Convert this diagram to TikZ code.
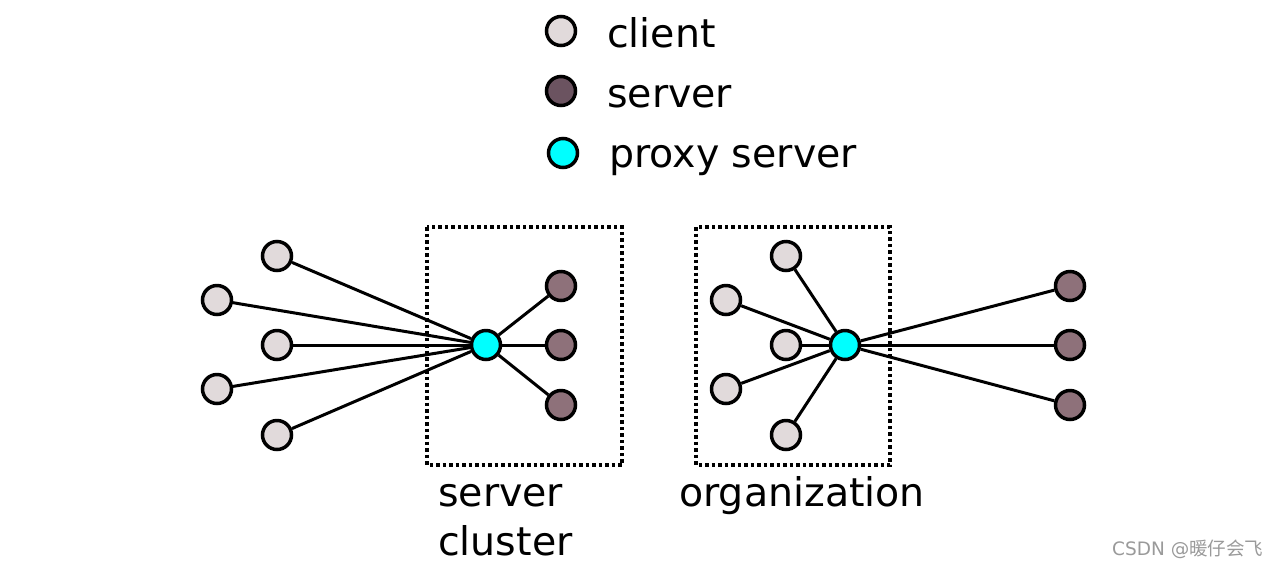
\documentclass[tikz,border=0pt]{standalone}
\usepackage{fontspec}
\setmainfont{DejaVu Sans}
\newfontfamily\cjk{Noto Sans CJK SC}
\definecolor{clientc}{HTML}{E1DADB}
\definecolor{serverleg}{HTML}{6B5360}
\definecolor{serverc}{HTML}{8E717A}
\definecolor{proxyc}{HTML}{00FFFF}
\definecolor{wm}{HTML}{9A9A9A}
\tikzset{
  dot/.style={circle,draw=black,line width=3.5pt,minimum size=29pt,inner sep=0pt},
  clientdot/.style={dot,fill=clientc},
  serverdot/.style={dot,fill=serverc},
  legserver/.style={dot,fill=serverleg},
  proxydot/.style={dot,fill=proxyc},
  link/.style={line width=3pt},
  cbox/.style={draw=black,line width=3.5pt,dash pattern=on 3.5pt off 3pt},
  lbl/.style={font=\fontsize{39.5}{46}\selectfont,inner sep=0pt,anchor=base west},
}
\begin{document}
\begin{tikzpicture}[x=1pt,y=-1pt]
\useasboundingbox[fill=white] (0,0) rectangle (1279,566);
% legend
\node[clientdot] (lc) at (561,31) {};
\node[legserver] (ls) at (561,91) {};
\node[proxydot] (lp) at (563,153) {};
\node[lbl] (tc) at (607,47) {client};
\node[lbl] (ts) at (607,107) {server};
\node[lbl] (tp) at (609,167) {proxy server};
% boxes
\draw[cbox] (427,227) rectangle (622,465);
\draw[cbox] (696,227) rectangle (890,465);
% left cluster
\node[clientdot] (a1) at (277,256) {};
\node[clientdot] (a2) at (217,300) {};
\node[clientdot] (a3) at (277,345) {};
\node[clientdot] (a4) at (217,389) {};
\node[clientdot] (a5) at (277,435) {};
\node[proxydot] (ap) at (486,345) {};
\node[serverdot] (as1) at (561,286) {};
\node[serverdot] (as2) at (561,345) {};
\node[serverdot] (as3) at (561,405) {};
\foreach \n in {a1,a2,a3,a4,a5,as1,as2,as3} \draw[link] (ap) -- (\n);
% right cluster
\node[clientdot] (b1) at (786,256) {};
\node[clientdot] (b2) at (726,300) {};
\node[clientdot] (b3) at (786,345) {};
\node[clientdot] (b4) at (726,389) {};
\node[clientdot] (b5) at (786,435) {};
\node[proxydot] (bp) at (845,345) {};
\node[serverdot] (bs1) at (1070,286) {};
\node[serverdot] (bs2) at (1070,345) {};
\node[serverdot] (bs3) at (1070,405) {};
\foreach \n in {b1,b2,b3,b4,b5,bs1,bs2,bs3} \draw[link] (bp) -- (\n);
% labels
\node[lbl] (l1) at (438,506) {server};
\node[lbl] (l2) at (438,555) {cluster};
\node[lbl] (l3) at (679,506) {organization};
\node[inner sep=0pt,anchor=base west,text=wm,font=\fontsize{18.5}{21}\selectfont] (w) at (1112,555) {CSDN @{\cjk 暖仔会飞}};
\end{tikzpicture}
\end{document}
